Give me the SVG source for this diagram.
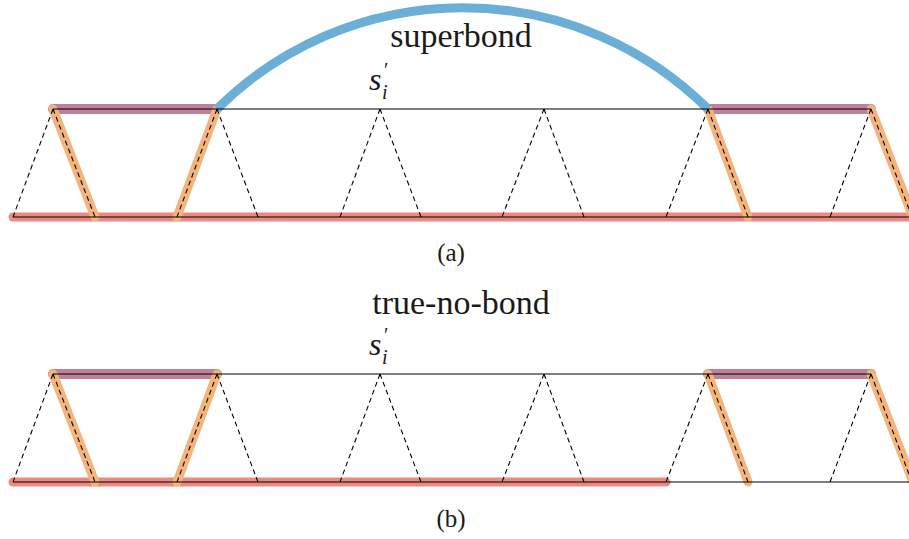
<svg xmlns="http://www.w3.org/2000/svg" width="909" height="539" viewBox="0 0 909 539">
<style>
.red{stroke:#ec8a82;stroke-width:9;stroke-linecap:round;fill:none}
.pur{stroke:#c07f9a;stroke-width:10;stroke-linecap:round;fill:none}
.org{stroke:#f4b57d;stroke-width:9;stroke-linecap:round;fill:none}
.blu{stroke:#6baed6;stroke-width:9;fill:none}
.ln{stroke:#000;stroke-width:1.1;fill:none}
.ds{stroke:#000;stroke-width:1.1;stroke-dasharray:5 3.5;fill:none}
.t{fill:#1a1a1a}
</style>
<defs>
<g id="truss">
<line class="ln" x1="53" y1="0" x2="871" y2="0"/>
<line class="ln" x1="13" y1="108" x2="912" y2="108"/>
<path class="ds" d="M53,0 L13,108 M53,0 L95,108 M217,0 L177,108 M217,0 L258,108 M380,0 L340,108 M380,0 L421,108 M544,0 L502,108 M544,0 L584,108 M708,0 L666,108 M708,0 L748,108 M871,0 L830,108 M871,0 L912,108"/>
</g>
</defs>
<g id="panel-a">
<g id="a-highlights">
<line class="red" x1="13" y1="217" x2="915" y2="217"/>
<line class="pur" x1="53" y1="109" x2="217" y2="109"/>
<line class="pur" x1="708" y1="109" x2="871" y2="109"/>
<line class="org" x1="53" y1="109" x2="95" y2="217"/>
<line class="org" x1="217" y1="109" x2="177" y2="217"/>
<line class="org" x1="708" y1="109" x2="748" y2="217"/>
<line class="org" x1="871" y1="109" x2="913" y2="217"/>
<path class="blu" d="M217,109 A348,348 0 0 1 708,109"/>
</g>
<g id="a-connectors"><use href="#truss" y="109"/></g>
<g font-family="'Liberation Serif','Times New Roman','DejaVu Serif',serif">
<text class="t" x="461" y="47" font-size="34" text-anchor="middle">superbond</text>
<text class="t" x="369" y="90" font-size="32" font-style="italic">s</text>
<text class="t" x="384" y="77" font-size="20">′</text>
<text class="t" x="382" y="99" font-size="20" font-style="italic">i</text>
<text class="t" x="451" y="261" font-size="25" text-anchor="middle">(a)</text>
</g>
</g>
<g id="panel-b">
<g id="b-highlights">
<line class="red" x1="13" y1="482" x2="666" y2="482"/>
<line class="pur" x1="53" y1="374" x2="217" y2="374"/>
<line class="pur" x1="708" y1="374" x2="871" y2="374"/>
<line class="org" x1="53" y1="374" x2="95" y2="482"/>
<line class="org" x1="217" y1="374" x2="177" y2="482"/>
<line class="org" x1="708" y1="374" x2="748" y2="482"/>
<line class="org" x1="871" y1="374" x2="913" y2="482"/>
</g>
<g id="b-connectors"><use href="#truss" y="374"/></g>
<g font-family="'Liberation Serif','Times New Roman','DejaVu Serif',serif">
<text class="t" x="461" y="314" font-size="34" text-anchor="middle">true-no-bond</text>
<text class="t" x="369" y="355" font-size="32" font-style="italic">s</text>
<text class="t" x="384" y="342" font-size="20">′</text>
<text class="t" x="382" y="364" font-size="20" font-style="italic">i</text>
<text class="t" x="451" y="527" font-size="25" text-anchor="middle">(b)</text>
</g>
</g>
</svg>
